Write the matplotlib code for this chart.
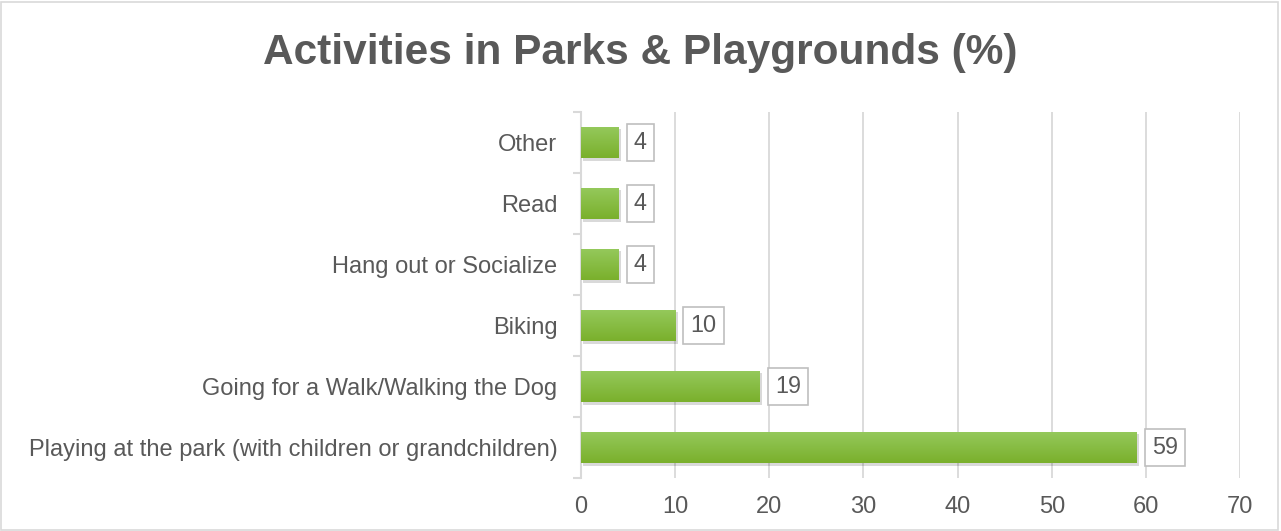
import numpy as np
import matplotlib.pyplot as plt
from matplotlib.patches import Rectangle
from matplotlib.colors import LinearSegmentedColormap

categories = ['Playing at the park (with children or grandchildren)',
              'Going for a Walk/Walking the Dog',
              'Biking',
              'Hang out or Socialize',
              'Read',
              'Other']
values = [59, 19, 10, 4, 4, 4]
xticks = [0, 10, 20, 30, 40, 50, 60, 70]

plt.rcParams['font.family'] = ['Liberation Sans', 'DejaVu Sans']
txt = '#595959'

fig = plt.figure(figsize=(12.81, 5.31), dpi=100)
ax = fig.add_axes([0.4536, 0.0998, 0.968 - 0.4536, 0.789 - 0.0998])

ypos = np.arange(len(categories))
h = 0.52

# shadow
ax.barh(ypos - 0.04, values, height=h, left=0.25, color='#000000', alpha=0.15, zorder=2)
bars = ax.barh(ypos, values, height=h, color='#86BD3D', zorder=3)

grad = LinearSegmentedColormap.from_list('g', ['#7AB02C', '#95C95C'])
g = np.linspace(0, 1, 64).reshape(-1, 1)
for b in bars:
    x0, y0 = b.get_x(), b.get_y()
    im = ax.imshow(g, cmap=grad, aspect='auto', origin='lower',
                   extent=(x0, x0 + b.get_width(), y0, y0 + b.get_height()), zorder=4)
    im.set_clip_path(b)

for y, v in zip(ypos, values):
    ax.annotate(str(v), (v, y), xytext=(11, 0), textcoords='offset points',
                va='center', ha='left', fontsize=16.8, color=txt, zorder=5,
                bbox=dict(boxstyle='square,pad=0.3', fc='white', ec='#BFBFBF', lw=1.2))

ax.set_xlim(0, 70)
ax.set_ylim(-0.5, len(categories) - 0.5)
ax.set_xticks(xticks)
ax.set_yticks(ypos)
ax.set_yticklabels(categories)
ax.set_yticks(np.arange(-0.5, len(categories), 1), minor=True)
ax.tick_params(axis='y', which='major', length=0, pad=17, labelsize=17, labelcolor=txt)
ax.tick_params(axis='y', which='minor', length=6, color='#D9D9D9', width=1.5)
ax.tick_params(axis='x', length=0, pad=13, labelsize=17, labelcolor=txt)
ax.xaxis.grid(True, color='#D9D9D9', lw=1.3)
ax.set_axisbelow(True)
for s in ['top', 'right', 'bottom']:
    ax.spines[s].set_visible(False)
ax.spines['left'].set_color('#D9D9D9')
ax.spines['left'].set_linewidth(1.5)

fig.text(0.5, 0.9, 'Activities in Parks & Playgrounds (%)', ha='center', va='center',
         fontsize=30.5, fontweight='bold', color=txt)

fig.patches.append(Rectangle((0.001, 0.002), 0.997, 0.995, transform=fig.transFigure,
                             fill=False, ec='#D9D9D9', lw=1.2))

fig.savefig('out.png', dpi=100)
